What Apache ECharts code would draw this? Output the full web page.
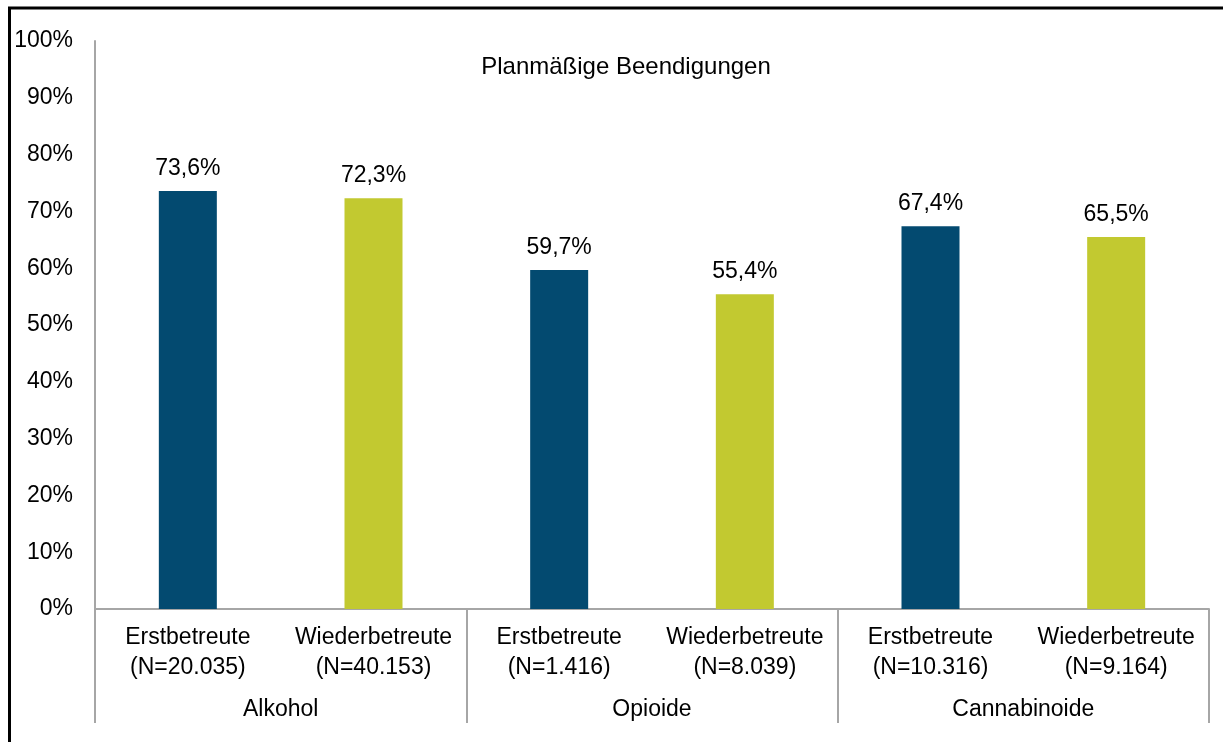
<!DOCTYPE html>
<html>
<head>
    <meta charset="utf-8">
    <style>
        html, body { margin: 0; padding: 0; background: #fff; }
        #main { width: 1223px; height: 742px; }
    </style>
</head>
<body>
    <div id="main"></div>
    <script src="https://cdn.jsdelivr.net/npm/echarts@6/dist/echarts.min.js"></script>
    <script type="text/javascript">
        // data
        var types = ['Erstbetreute', 'Wiederbetreute', 'Erstbetreute', 'Wiederbetreute', 'Erstbetreute', 'Wiederbetreute'];
        var counts = ['N=20.035', 'N=40.153', 'N=1.416', 'N=8.039', 'N=10.316', 'N=9.164'];
        var groups = ['Alkohol', 'Opioide', 'Cannabinoide'];
        var shares = [73.6, 72.3, 59.7, 55.4, 67.4, 65.5];
        var yTicks = [0, 10, 20, 30, 40, 50, 60, 70, 80, 90, 100];

        var blue = '#034a70';
        var lime = '#c2c930';
        var axisGrey = '#a6a6a6';
        var font = 'Liberation Sans, Arial, sans-serif';

        var cats = types.map(function (t, i) {
            return t + '\n(' + counts[i] + ')';
        });

        var barData = shares.map(function (v, i) {
            return {
                value: v,
                itemStyle: { color: types[i] === 'Erstbetreute' ? blue : lime }
            };
        });

        var myChart = echarts.init(document.getElementById('main'));

        var option = {
            backgroundColor: '#fff',
            animation: false,
            title: {
                text: 'Planmäßige Beendigungen',
                left: 626,
                top: 55,
                textAlign: 'center',
                padding: 0,
                textStyle: { fontFamily: font, fontSize: 24, fontWeight: 'normal', color: '#000' }
            },
            grid: { left: 95, right: 14, top: 41, bottom: 133 },
            xAxis: [
                {
                    type: 'category',
                    data: cats,
                    position: 'bottom',
                    axisLine: { show: true, lineStyle: { color: axisGrey, width: 2 } },
                    axisTick: { show: false },
                    axisLabel: {
                        interval: 0,
                        margin: 14,
                        color: '#000',
                        fontFamily: font,
                        fontSize: 23,
                        lineHeight: 30
                    }
                },
                {
                    type: 'category',
                    data: groups,
                    position: 'bottom',
                    axisLine: { show: false },
                    axisTick: {
                        show: true,
                        interval: 0,
                        length: 114,
                        lineStyle: { color: axisGrey, width: 2 }
                    },
                    axisLabel: {
                        interval: 0,
                        margin: 89,
                        color: '#000',
                        fontFamily: font,
                        fontSize: 23
                    }
                }
            ],
            yAxis: {
                type: 'value',
                min: yTicks[0],
                max: yTicks[yTicks.length - 1],
                interval: 10,
                axisLine: { show: true, lineStyle: { color: axisGrey, width: 2 } },
                axisTick: { show: false },
                splitLine: { show: false },
                axisLabel: {
                    formatter: '{value}%',
                    margin: 22,
                    color: '#000',
                    fontFamily: font,
                    fontSize: 23
                }
            },
            series: [
                {
                    type: 'bar',
                    xAxisIndex: 0,
                    data: barData,
                    barWidth: 58,
                    label: {
                        show: true,
                        position: 'top',
                        distance: 11,
                        color: '#000',
                        fontFamily: font,
                        fontSize: 23,
                        formatter: function (p) {
                            return p.value.toFixed(1).replace('.', ',') + '%';
                        }
                    }
                }
            ],
            graphic: [
                {
                    type: 'rect',
                    silent: true,
                    shape: { x: 9.5, y: 8, width: 1400, height: 1000 },
                    style: { fill: 'none', stroke: '#000', lineWidth: 3 }
                }
            ]
        };

        myChart.setOption(option);
    </script>
</body>
</html>
